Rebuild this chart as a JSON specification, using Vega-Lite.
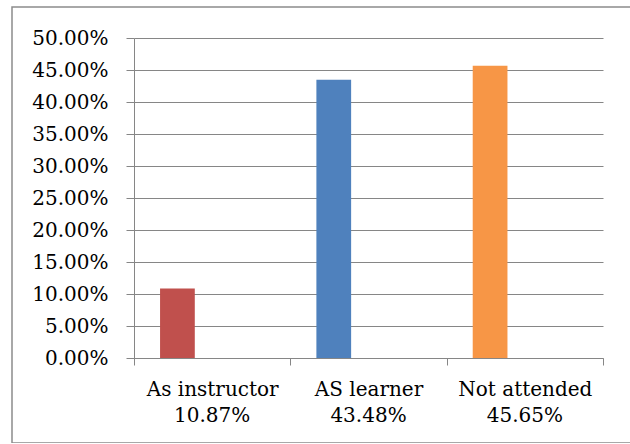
{
  "$schema": "https://vega.github.io/schema/vega-lite/v6.json",
  "autosize": "none",
  "width": 622,
  "height": 436,
  "padding": {"left": 12, "top": 7, "right": 0, "bottom": 0},
  "background": "white",
  "config": {
    "view": {"stroke": "#8c8c8c", "strokeWidth": 1.5},
    "font": "DejaVu Serif",
    "axis": {
      "domainColor": "#868686",
      "tickColor": "#868686",
      "gridColor": "#868686",
      "labelColor": "#000000",
      "labelFont": "DejaVu Serif",
      "labelFontSize": 20,
      "labelOverlap": false,
      "labelFlush": false,
      "title": null
    }
  },
  "data": {
    "values": [
      {"category": "As instructor", "share": 0.1087, "series": "s1"},
      {"category": "AS learner", "share": 0.4348, "series": "s1"},
      {"category": "Not attended", "share": 0.4565, "series": "s1"}
    ]
  },
  "encoding": {
    "x": {
      "field": "category",
      "type": "nominal",
      "sort": null,
      "scale": {"range": [122, 591], "paddingInner": 0, "paddingOuter": 0},
      "axis": {
        "orient": "bottom",
        "offset": -85,
        "labelAngle": 0,
        "tickBand": "extent",
        "tickSize": 7,
        "labelPadding": 30,
        "labelBaseline": "alphabetic",
        "grid": false
      }
    }
  },
  "layer": [
    {
      "mark": {"type": "bar"},
      "encoding": {
        "xOffset": {
          "field": "series",
          "type": "nominal",
          "scale": {"domain": ["s1", "s2", "s3"], "paddingInner": 0, "paddingOuter": 0.75}
        },
        "y": {
          "field": "share",
          "type": "quantitative",
          "scale": {"domain": [0, 0.5], "nice": false, "range": [351, 31]},
          "axis": {
            "orient": "left",
            "offset": -122,
            "format": ".2%",
            "values": [0, 0.05, 0.1, 0.15, 0.2, 0.25, 0.3, 0.35, 0.4, 0.45, 0.5],
            "tickSize": 8,
            "labelPadding": 18,
            "grid": true
          }
        },
        "color": {
          "field": "category",
          "type": "nominal",
          "scale": {
            "domain": ["As instructor", "AS learner", "Not attended"],
            "range": ["#C0504D", "#4F81BD", "#F79646"]
          },
          "legend": null
        }
      }
    },
    {
      "mark": {"type": "text", "dy": 64, "baseline": "alphabetic", "fontSize": 20, "font": "DejaVu Serif", "color": "#000000"},
      "encoding": {
        "y": {"datum": 0, "type": "quantitative"},
        "text": {"field": "share", "type": "quantitative", "format": ".2%"}
      }
    }
  ]
}
